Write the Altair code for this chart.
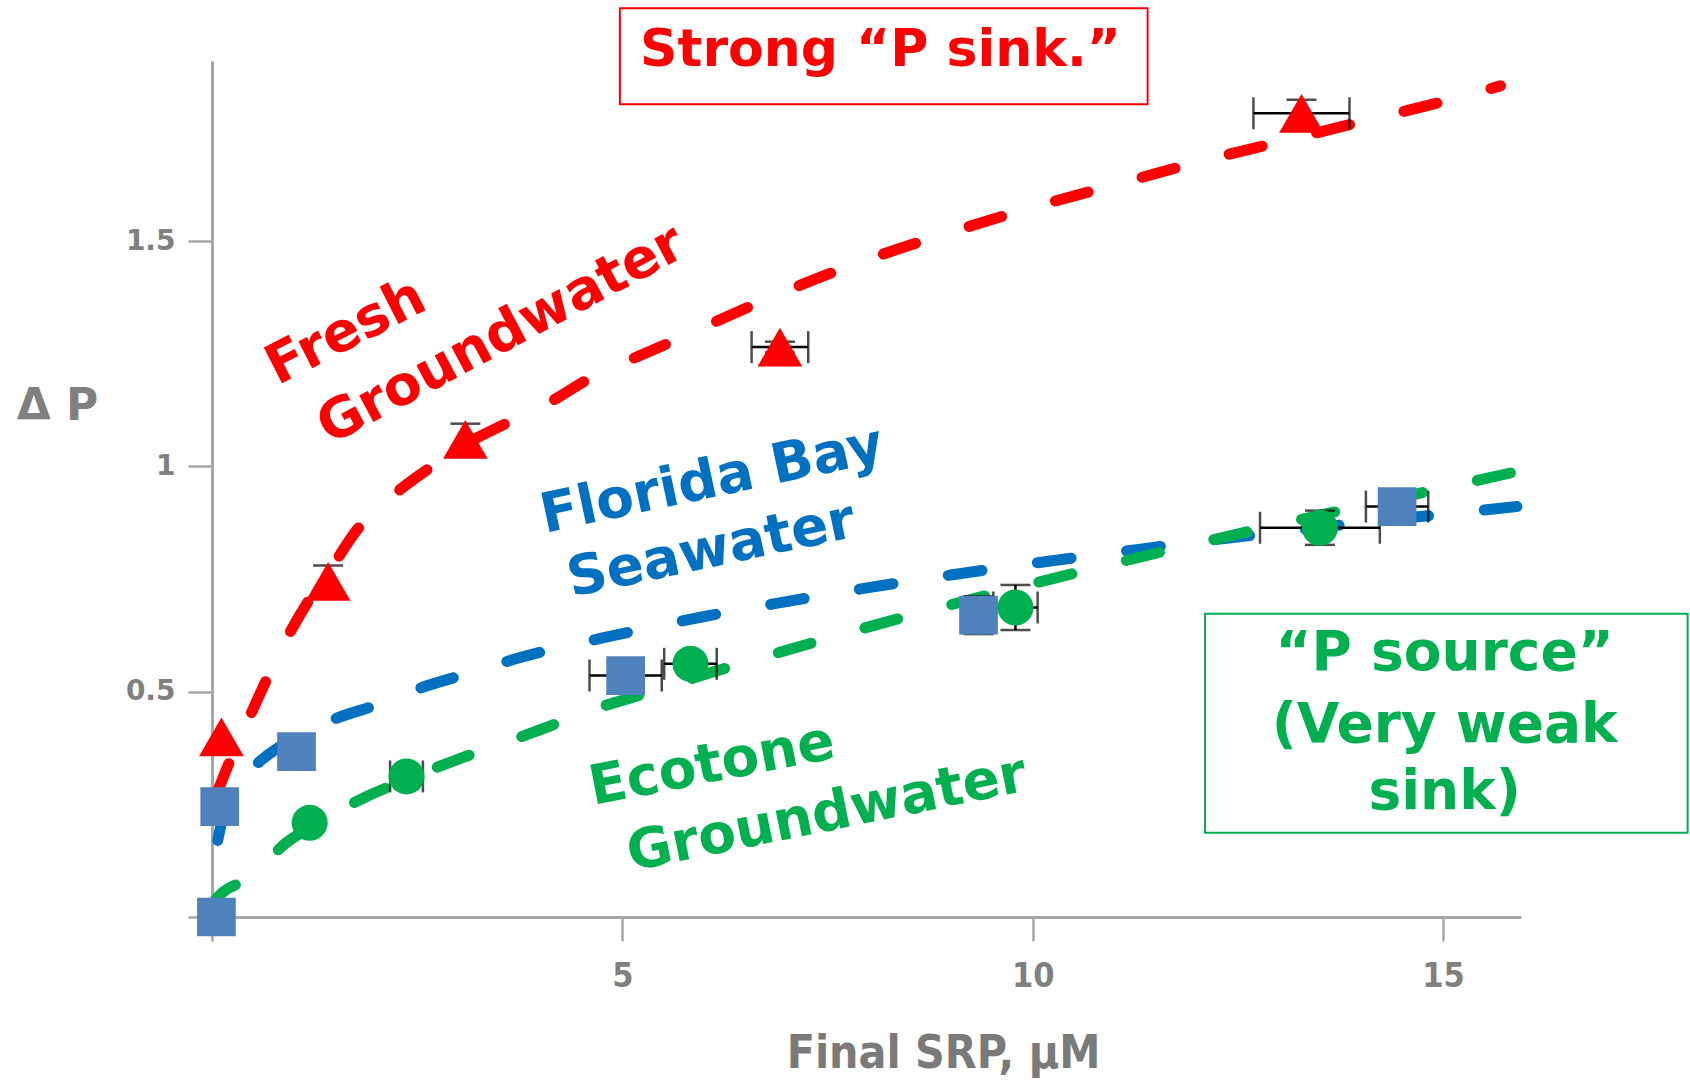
import altair as alt
import pandas as pd

# ---- measured points: final SRP (uM) vs delta P, one list per water source ----
fresh_x = [0.115, 1.415, 3.087, 6.92, 13.275]
fresh_y = [0.40, 0.745, 1.06, 1.265, 1.784]
fresh_xerr = [0.0, 0.0, 0.0, 0.345, 0.585]
fresh_yerr = [0.0, 0.035, 0.035, 0.012, 0.03]

bay_x = [0.054, 0.094, 1.03, 5.04, 9.34, 14.44]
bay_y = [0.0, 0.245, 0.367, 0.536, 0.67, 0.911]
bay_xerr = [0.0, 0.0, 0.0, 0.44, 0.0, 0.38]
bay_yerr = [0.0, 0.0, 0.0, 0.0, 0.042, 0.0]

eco_x = [1.19, 2.37, 5.83, 9.79, 13.5]
eco_y = [0.209, 0.312, 0.562, 0.687, 0.864]
eco_xerr = [0.0, 0.2, 0.32, 0.27, 0.73]
eco_yerr = [0.0, 0.0, 0.0, 0.05, 0.038]

# ---- fitted sorption curves (dashed) ----
fresh_fit_x = [0.05, 0.25, 0.46, 0.66, 0.93, 1.17, 1.42, 1.77, 2.2, 2.6, 3.0, 3.6,
               4.1, 4.6, 5.1, 5.7, 6.0, 7.0, 8.0, 9.0, 10.0, 11.0, 12.0, 13.0,
               14.0, 15.0, 15.7]
fresh_fit_y = [0.27, 0.36, 0.445, 0.525, 0.625, 0.70, 0.765, 0.86, 0.935, 0.99, 1.04,
               1.097, 1.141, 1.195, 1.237, 1.285, 1.31, 1.39, 1.46, 1.52, 1.575,
               1.625, 1.675, 1.72, 1.765, 1.81, 1.845]

bay_fit_x = [0.07, 0.15, 0.3, 0.52, 0.8, 1.0, 1.5, 2.0, 2.6, 3.15, 3.7, 5.0, 6.0,
             7.0, 8.0, 9.0, 10.0, 11.0, 12.0, 13.0, 14.0, 15.0, 15.9]
bay_fit_y = [0.17, 0.235, 0.29, 0.335, 0.375, 0.395, 0.44, 0.47, 0.512, 0.542,
             0.573, 0.629, 0.667, 0.70, 0.731, 0.759, 0.785, 0.809, 0.833, 0.854,
             0.875, 0.894, 0.911]

eco_fit_x = [0.0, 0.05, 0.48, 0.9, 1.2, 1.88, 2.37, 2.98, 3.49, 4.05, 4.56, 5.15,
             6.0, 7.0, 8.0, 9.0, 10.0, 11.0, 12.0, 13.0, 14.0, 15.0, 15.93]
eco_fit_y = [0.02, 0.04, 0.09, 0.164, 0.2, 0.267, 0.305, 0.349, 0.382, 0.419,
             0.456, 0.489, 0.538, 0.592, 0.644, 0.693, 0.74, 0.785, 0.829, 0.871,
             0.912, 0.952, 0.99]

# ---- axis ticks and text ----
x_ticks = [0, 5, 10, 15]
y_ticks = [0, 0.5, 1, 1.5]
fresh_label = ["Fresh", "Groundwater"]
bay_label = ["Florida Bay", "Seawater"]
eco_label = ["Ecotone", "Groundwater"]
sink_label = "Strong \u201cP sink.\u201d"
source_label = ["\u201cP source\u201d", "(Very weak", "sink)"]

RED, BLUE, GREEN = "#ff0000", "#0070c0", "#00b050"
SQUARE_BLUE = "#4f81bd"
GRAY = "#808080"
AXIS_GRAY = "#a6a6a6"
FONT = "DejaVu Sans"
NARROW = "Liberation Sans Narrow, DejaVu Sans Condensed, sans-serif"

X_SCALE = alt.Scale(domain=[0, 15.95], nice=False, zero=False)
Y_SCALE = alt.Scale(domain=[0, 1.9], nice=False, zero=False)


def points_frame(xs, ys, xerr, yerr):
    return pd.DataFrame({"x": xs, "y": ys, "xe": xerr, "ye": yerr})


pts = {
    "fresh": points_frame(fresh_x, fresh_y, fresh_xerr, fresh_yerr),
    "bay": points_frame(bay_x, bay_y, bay_xerr, bay_yerr),
    "eco": points_frame(eco_x, eco_y, eco_xerr, eco_yerr),
}
all_pts = pd.concat(pts.values(), ignore_index=True)
all_pts["xlo"] = all_pts["x"] - all_pts["xe"]
all_pts["xhi"] = all_pts["x"] + all_pts["xe"]
all_pts["ylo"] = all_pts["y"] - all_pts["ye"]
all_pts["yhi"] = all_pts["y"] + all_pts["ye"]
hbars = all_pts[all_pts["xe"] > 0]
vbars = all_pts[all_pts["ye"] > 0]

fits = pd.concat([
    pd.DataFrame({"series": "Fresh", "x": fresh_fit_x, "y": fresh_fit_y}),
    pd.DataFrame({"series": "Bay", "x": bay_fit_x, "y": bay_fit_y}),
    pd.DataFrame({"series": "Eco", "x": eco_fit_x, "y": eco_fit_y}),
], ignore_index=True)

# the line layer carries both axes
x_axis = alt.Axis(
    values=x_ticks, format="~g", labelExpr="datum.value == 0 ? '' : datum.label",
    grid=False, domainColor=AXIS_GRAY, domainWidth=3, tickColor=AXIS_GRAY,
    tickWidth=2.5, tickSize=24, labelFont=NARROW, labelFontWeight="bold",
    labelFontSize=34, labelColor=GRAY, labelPadding=18,
    title="Final SRP, \u03bcM", titleFont=NARROW, titleFontWeight="bold",
    titleFontSize=46, titleColor="#7a7a7a", titleX=731, titleY=150,
    titleAlign="center", titleBaseline="alphabetic",
)
y_axis = alt.Axis(
    values=y_ticks, format="~g", labelExpr="datum.value == 0 ? '' : datum.label",
    grid=False, domainColor=AXIS_GRAY, domainWidth=3, tickColor=AXIS_GRAY,
    tickWidth=2.5, tickSize=24, labelFont=FONT, labelFontWeight="bold",
    labelFontSize=28, labelColor=GRAY, labelPadding=13,
    title="\u0394 P", titleFont=FONT, titleFontWeight="bold", titleFontSize=44,
    titleColor=GRAY, titleAngle=0, titleX=-155, titleY=358,
    titleAlign="center", titleBaseline="alphabetic",
)

lines = alt.Chart(fits).mark_line(
    strokeWidth=11, strokeCap="round", strokeDash=[34, 56], interpolate="monotone"
).encode(
    x=alt.X("x:Q", scale=X_SCALE, axis=x_axis),
    y=alt.Y("y:Q", scale=Y_SCALE, axis=y_axis),
    color=alt.Color("series:N", scale=alt.Scale(domain=["Fresh", "Bay", "Eco"],
                                                range=[RED, BLUE, GREEN]), legend=None),
    detail="series:N",
)

hbar = alt.Chart(hbars).mark_rule(color="black", strokeWidth=2.5).encode(
    x="xlo:Q", x2="xhi:Q", y="y:Q")
hcap_lo = alt.Chart(hbars).mark_tick(orient="vertical", color="black", size=32,
                                     thickness=2.5).encode(x="xlo:Q", y="y:Q")
hcap_hi = alt.Chart(hbars).mark_tick(orient="vertical", color="black", size=32,
                                     thickness=2.5).encode(x="xhi:Q", y="y:Q")
vbar = alt.Chart(vbars).mark_rule(color="black", strokeWidth=2.5).encode(
    x="x:Q", y="ylo:Q", y2="yhi:Q")
vcap_lo = alt.Chart(vbars).mark_tick(orient="horizontal", color="black", size=30,
                                     thickness=2.5).encode(x="x:Q", y="ylo:Q")
vcap_hi = alt.Chart(vbars).mark_tick(orient="horizontal", color="black", size=30,
                                     thickness=2.5).encode(x="x:Q", y="yhi:Q")

fresh_pts = alt.Chart(pts["fresh"]).mark_point(
    shape="triangle-up", filled=True, size=2000, color=RED, opacity=1
).encode(x="x:Q", y="y:Q")
bay_pts = alt.Chart(pts["bay"]).mark_square(size=1500, color=SQUARE_BLUE, opacity=1
                                            ).encode(x="x:Q", y="y:Q")
eco_pts = alt.Chart(pts["eco"]).mark_circle(size=1300, color=GREEN, opacity=1
                                            ).encode(x="x:Q", y="y:Q")


def note(text, x, y, color, angle=0, size=55, baseline="middle"):
    return alt.Chart(pd.DataFrame({"label": [text]})).mark_text(
        font=FONT, fontWeight="bold", fontSize=size, color=color, angle=angle,
        align="center", baseline=baseline,
    ).encode(x=alt.datum(x), y=alt.datum(y), text="label:N")


def frame(x1, x2, y1, y2, color):
    return alt.Chart(pd.DataFrame({"k": [0]})).mark_rect(
        fillOpacity=0, stroke=color, strokeWidth=2
    ).encode(x=alt.datum(x1), x2=alt.datum(x2), y=alt.datum(y1), y2=alt.datum(y2))


notes = [
    note(fresh_label[0], 1.63, 1.299, RED, 333),
    note(fresh_label[1], 3.52, 1.292, RED, 332),
    note(bay_label[0], 6.09, 0.970, BLUE, 348),
    note(bay_label[1], 6.08, 0.815, BLUE, 348),
    note(eco_label[0], 6.09, 0.338, GREEN, 349),
    note(eco_label[1], 7.49, 0.229, GREEN, 348.5),
    frame(4.97, 11.40, 2.017, 1.804, RED),
    note(sink_label, 8.145, 1.888, RED, 0, 52, "alphabetic"),
    frame(12.1, 17.98, 0.673, 0.187, GREEN),
    note(source_label[0], 15.02, 0.586, GREEN, 0, 55),
    note(source_label[1], 15.02, 0.426, GREEN, 0, 55),
    note(source_label[2], 15.02, 0.277, GREEN, 0, 55),
]

chart = alt.layer(
    lines, hbar, hcap_lo, hcap_hi, vbar, vcap_lo, vcap_hi,
    fresh_pts, bay_pts, eco_pts, *notes
).properties(
    width=1309, height=856,
    padding={"left": 212, "top": 61, "right": 169, "bottom": 164},
    autosize=alt.AutoSizeParams(type="none"),
    background="white",
).configure_view(stroke=None)

chart.save("out.html", embed_options={"renderer": "svg", "actions": False})
